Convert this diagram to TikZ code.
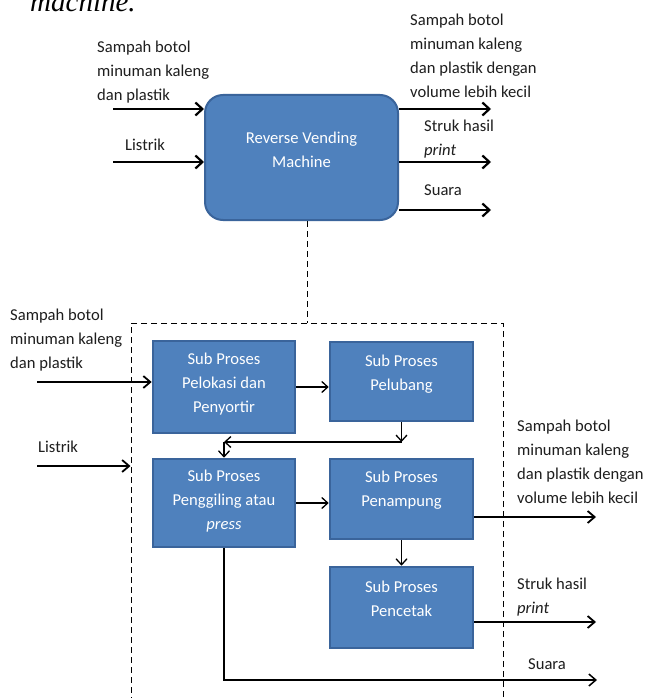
\documentclass[tikz,border=0pt]{standalone}
\usepackage{fontspec}
\setmainfont{Carlito}
\newfontfamily\capfont{Liberation Serif}
\usetikzlibrary{arrows.meta}
\definecolor{boxfill}{HTML}{4F81BD}
\definecolor{boxline}{HTML}{3A649B}
\definecolor{txt}{HTML}{1E1E1E}
\begin{document}
\begin{tikzpicture}[x=1pt,y=-1pt,
  lbl/.style={font=\fontsize{16.6}{24}\selectfont, text=txt, align=left, inner sep=0pt, anchor=west},
  btxt/.style={font=\fontsize{16.6}{24}\selectfont, text=white, align=center, inner sep=0pt},
  mainbox/.style={draw=boxline, line width=2pt, fill=boxfill, rounded corners=18pt, inner sep=0pt},
  subbox/.style={draw=boxline, line width=2.6pt, fill=boxfill, inner sep=0pt},
  thickarr/.style={line width=2.2pt, -{Straight Barb[length=7pt,width=13pt]}},
  midarr/.style={line width=1.8pt, -{Straight Barb[length=7pt,width=12pt]}},
  thinarr/.style={line width=1.3pt, -{Straight Barb[length=6pt,width=11pt]}},
  dashline/.style={line width=1pt, dash pattern=on 6pt off 4pt}
]
\useasboundingbox (0,0) rectangle (646,698);
\fill[white] (0,0) rectangle (646,698);

% cut-off caption fragment
\begin{scope}
\clip (0,0) rectangle (646,698);
\node[anchor=base west, inner sep=0pt, font=\capfont\itshape\fontsize{29}{29}\selectfont] (cap) at (30,12) {machine.};
\end{scope}

% ===== top block =====
\node[mainbox, minimum width=193pt, minimum height=125pt] (rvm) at (301.5,157.5) {};
\node[btxt] (rvmT) at (301.5,150) {Reverse Vending\\Machine};

\coordinate (inA) at (113,109);
\coordinate (inB) at (113,162);
\node[lbl] (lA) at (97,72.5) {Sampah botol\\minuman kaleng\\dan plastik};
\node[lbl] (lB) at (125,145) {Listrik};
\draw[thickarr] (inA) -- (inA -| rvm.west);
\draw[thickarr] (inB) -- (inB -| rvm.west);

\coordinate (oA) at (491,109);
\coordinate (oB) at (491,162);
\coordinate (oC) at (491,210);
\node[lbl] (rA) at (410,56) {Sampah botol\\minuman kaleng\\dan plastik dengan\\volume lebih kecil};
\node[lbl] (rB) at (424,139) {Struk hasil\\\textit{print}};
\node[lbl] (rC) at (424,190) {Suara};
\draw[thickarr] (oA -| rvm.east) -- (oA);
\draw[thickarr] (oB -| rvm.east) -- (oB);
\draw[thickarr] (oC -| rvm.east) -- (oC);

% ===== decomposition =====
\node[draw, dashline, minimum width=372pt, minimum height=382pt, inner sep=0pt] (sys) at (317,514) {};
\coordinate (dtop) at (307,323);
\draw[dashline] (rvm.south -| dtop) -- (dtop);

\node[subbox, minimum width=142pt, minimum height=92pt] (pel) at (224,387) {};
\node[btxt] (pelT) at (224,384) {Sub Proses\\Pelokasi dan\\Penyortir};
\node[subbox, minimum width=143pt, minimum height=79pt] (pub) at (401.5,381.5) {};
\node[btxt] (pubT) at (401.5,374) {Sub Proses\\Pelubang};
\node[subbox, minimum width=142pt, minimum height=88pt] (peng) at (224,503) {};
\node[btxt] (pengT) at (224,501) {Sub Proses\\Penggiling atau\\\textit{press}};
\node[subbox, minimum width=143pt, minimum height=80pt] (pen) at (401.5,499) {};
\node[btxt] (penT) at (401.5,490) {Sub Proses\\Penampung};
\node[subbox, minimum width=143pt, minimum height=81pt] (cet) at (401.5,607.5) {};
\node[btxt] (cetT) at (401.5,599) {Sub Proses\\Pencetak};

% inputs
\coordinate (iA) at (37,382);
\coordinate (iB) at (37,466);
\node[lbl] (blA) at (10,340) {Sampah botol\\minuman kaleng\\dan plastik};
\node[lbl] (blB) at (38,447) {Listrik};
\draw[midarr] (iA) -- (iA -| pel.west);
\draw[midarr] (iB) -- (iB -| sys.west);

% internal flow
\draw[thinarr] (pel.east) -- (pel.east -| pub.west);
\coordinate (c1) at (401.5,442);
\coordinate (c2) at (224,442);
\draw[thinarr] (pub.south) -- (c1);
\draw[thinarr] (c1) -- (c2);
\draw[thinarr] (c2) -- (peng.north);
\draw[thinarr] (peng.east) -- (peng.east -| pen.west);
\draw[thinarr] (pen.south) -- (cet.north);

% outputs
\coordinate (bo1) at (596,517);
\coordinate (bo2) at (596,622);
\coordinate (bo3) at (597,680);
\node[lbl] (brA) at (517,462) {Sampah botol\\minuman kaleng\\dan plastik dengan\\volume lebih kecil};
\node[lbl] (brB) at (517,597) {Struk hasil\\\textit{print}};
\node[lbl] (brC) at (528,664) {Suara};
\draw[midarr] (bo1 -| pen.east) -- (bo1);
\draw[midarr] (bo2 -| cet.east) -- (bo2);
\draw[midarr, line width=1.5pt] (peng.south) |- (bo3);
\end{tikzpicture}
\end{document}
